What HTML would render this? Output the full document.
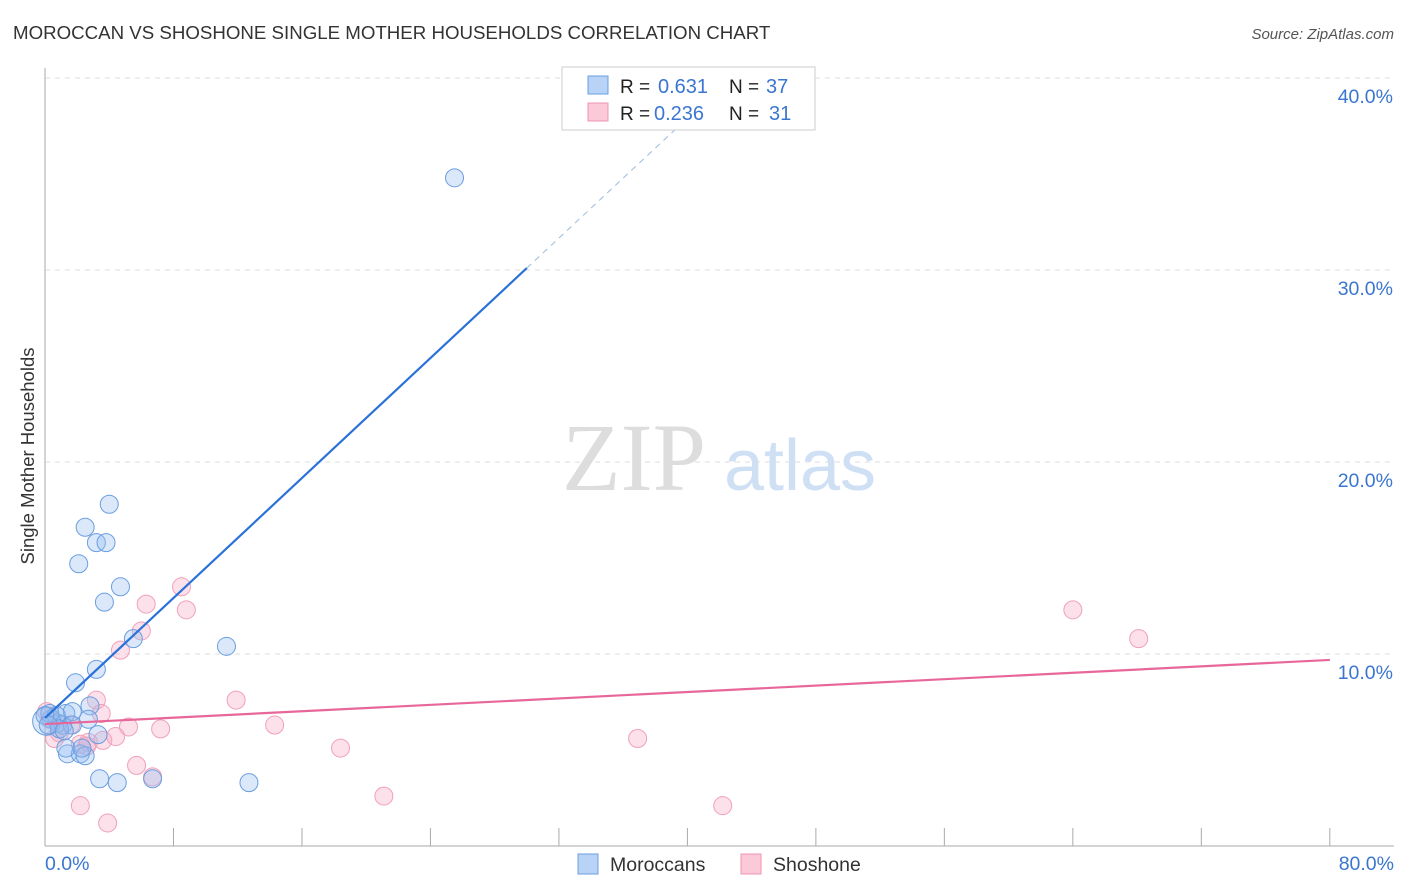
<!DOCTYPE html>
<html><head><meta charset="utf-8"><style>
body{margin:0;background:#fff;font-family:"Liberation Sans",sans-serif;}
svg{display:block}
</style></head><body>
<svg id="c" width="1406" height="892">
<text x="13" y="39" font-size="18.7" fill="#333">MOROCCAN VS SHOSHONE SINGLE MOTHER HOUSEHOLDS CORRELATION CHART</text>
<text x="1394" y="39" font-size="15" fill="#555" font-style="italic" text-anchor="end">Source: ZipAtlas.com</text>
<g id="grid"></g>
<text x="634" y="490" font-size="96" fill="#ddd" font-family="Liberation Serif" text-anchor="middle">ZIP</text>
<text x="800" y="490" font-size="72" fill="#cfe0f5" text-anchor="middle">atlas</text>
<g id="pts"></g>
<g id="lines"></g>
<text x="34" y="456" font-size="18.5" fill="#333" text-anchor="middle" transform="rotate(-90 34 456)">Single Mother Households</text>
<g>
<rect x="562" y="67" width="253" height="63" fill="#fff" stroke="#ccc"/>
<rect x="588" y="76" width="20" height="18" fill="#b8d3f5" stroke="#6a9ee0"/>
<rect x="588" y="103" width="20" height="18" fill="#fbc9d8" stroke="#ee95b2"/>
<text x="620" y="93" font-size="19" fill="#222">R = </text><text x="658" y="93" font-size="20" fill="#3a76d0">0.631</text>
<text x="729" y="93" font-size="19" fill="#222">N = </text><text x="766" y="93" font-size="20" fill="#3a76d0">37</text>
<text x="620" y="120" font-size="19" fill="#222">R = </text><text x="654" y="120" font-size="20" fill="#3a76d0">0.236</text>
<text x="729" y="120" font-size="19" fill="#222">N = </text><text x="769" y="120" font-size="20" fill="#3a76d0">31</text>
</g>
<g>
<rect x="578" y="854" width="20" height="20" fill="#b8d3f5" stroke="#6a9ee0"/>
<text x="610" y="871" font-size="19.5" fill="#333">Moroccans</text>
<rect x="741" y="854" width="20" height="20" fill="#fbc9d8" stroke="#ee95b2"/>
<text x="773" y="871" font-size="19.5" fill="#333">Shoshone</text>
</g>
</svg>
<script>
const xTicks=[0,8,16,24,32,40,48,56,64,72,80];
const yTicks=[10,20,30,40];
const blueX=[25.5,4.0,2.5,3.2,3.8,2.1,4.7,3.7,5.5,11.3,3.2,1.9,2.8,1.3,1.7,0.4,0.8,1.1,0.1,0.3,2.7,1.7,3.3,1.4,2.2,2.5,3.4,4.5,6.7,12.7,1.3,2.3,0.7,0.9,0.0,0.2,1.2];
const blueY=[34.8,17.8,16.6,15.8,15.8,14.7,13.5,12.7,10.8,10.4,9.2,8.5,7.3,6.9,7.0,6.6,6.4,6.3,6.5,6.9,6.6,6.3,5.8,4.8,4.8,4.7,3.5,3.3,3.5,3.3,5.1,5.1,6.8,6.1,6.8,6.3,6.0];
const blueR=[9,9,9,9,9,9,9,9,9,9,9,9,9,9,9,9,9,9,14,9,9,9,9,9,9,9,9,9,9,9,9,9,9,9,9,9,9];
const pinkX=[8.5,6.3,8.8,6.0,4.7,3.2,11.9,3.5,2.2,5.2,7.2,14.3,3.6,4.4,2.7,18.4,36.9,5.7,6.7,2.2,3.9,21.1,42.2,64.0,68.1,0.9,0.3,1.6,2.6,0.6,0.1];
const pinkY=[13.5,12.6,12.3,11.2,10.2,7.6,7.6,6.9,5.3,6.2,6.1,6.3,5.5,5.7,5.4,5.1,5.6,4.2,3.6,2.1,1.2,2.6,2.1,12.3,10.8,5.9,6.6,6.3,5.2,5.6,7.0];
const blueFit=[6.67,0.781];
const pinkFit=[6.35,9.69];
const X=v=>45+v*16.06, Y=v=>846-v*19.2;
const NS="http://www.w3.org/2000/svg";
function mk(p,t,a){const e=document.createElementNS(NS,t);for(const k in a)e.setAttribute(k,a[k]);p.appendChild(e);return e;}
const g=document.getElementById('grid');
yTicks.forEach(t=>{
 const l=mk(g,'line',{x1:45,x2:1394,y1:Y(t),y2:Y(t),stroke:'#ddd','stroke-dasharray':'5,5'});
 
 
 const s=mk(g,'text',{x:1393,y:Y(t)+25,'font-size':19.5,fill:'#3a76d0','text-anchor':'end'});
 s.textContent=t.toFixed(1)+'%';
 
 
});
mk(g,'line',{x1:45,x2:45,y1:68,y2:846,stroke:'#aaa'});
mk(g,'line',{x1:45,x2:1394,y1:846,y2:846,stroke:'#aaa'});
xTicks.forEach(t=>{
 const l=mk(g,'line',{x1:X(t),x2:X(t),y1:828,y2:846,stroke:'#aaa'});
 
 
});
[[0,'0.0%','start',45],[80,'80.0%','end',1394]].forEach(a=>{
 const s=mk(g,'text',{x:a[3],y:870,'font-size':19.5,fill:'#3a76d0','text-anchor':a[2]});
 s.textContent=a[1];
 
 
});
const P=document.getElementById('pts');
pinkX.forEach((v,i)=>{
 const c=mk(P,'circle',{cx:X(v),cy:Y(pinkY[i]),r:9,fill:'rgba(246,170,195,0.35)',stroke:'#f0a0ba'});
 
 
});
blueX.forEach((v,i)=>{
 const c=mk(P,'circle',{cx:X(v),cy:Y(blueY[i]),r:blueR[i],fill:'rgba(150,190,240,0.35)',stroke:'#6a9ee0'});
 
 
});
const L=document.getElementById('lines');
const by=x=>blueFit[0]+blueFit[1]*x;
const b1=mk(L,'line',{x1:X(0),y1:Y(by(0)),x2:X(30),y2:Y(by(30)),stroke:'#2a72d8','stroke-width':2.2});


const b2=mk(L,'line',{x1:X(30),y1:Y(by(30)),x2:X(40.5),y2:Y(by(40.5)),stroke:'#9bb9e0','stroke-width':1,'stroke-dasharray':'6,5'});


const p1=mk(L,'line',{x1:X(0),y1:Y(pinkFit[0]),x2:X(80),y2:Y(pinkFit[1]),stroke:'#e8679a','stroke-width':2.2});


</script>
</body></html>
